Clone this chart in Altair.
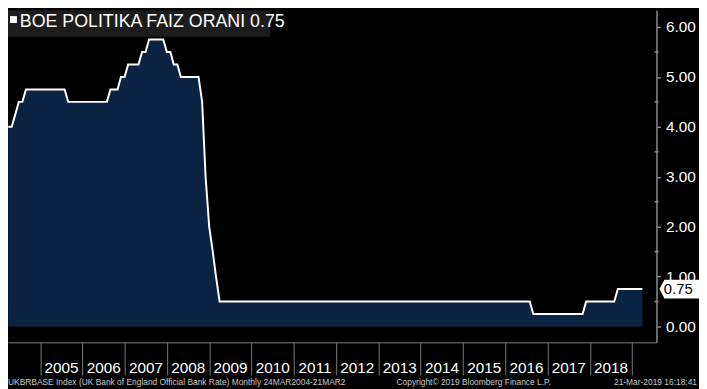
import altair as alt
import pandas as pd

# Vertices of the monthly Bank Rate series (month-end)
dates = ["2004-03-31", "2004-04-30", "2004-05-31", "2004-06-30", "2004-07-31",
         "2004-08-31", "2005-07-31", "2005-08-31", "2006-07-31", "2006-08-31",
         "2006-10-31", "2006-11-30", "2006-12-31", "2007-01-31", "2007-04-30",
         "2007-05-31", "2007-06-30", "2007-07-31", "2007-11-30", "2007-12-31",
         "2008-01-31", "2008-02-29", "2008-03-31", "2008-04-30", "2008-09-30",
         "2008-10-31", "2008-11-30", "2008-12-31", "2009-01-31", "2009-02-28",
         "2009-03-31", "2016-07-31", "2016-08-31", "2017-10-31", "2017-11-30",
         "2018-07-31", "2018-08-31", "2019-03-31"]
rates = [4.00, 4.00, 4.25, 4.50, 4.50,
         4.75, 4.75, 4.50, 4.50, 4.75,
         4.75, 5.00, 5.00, 5.25, 5.25,
         5.50, 5.50, 5.75, 5.75, 5.50,
         5.50, 5.25, 5.25, 5.00, 5.00,
         4.50, 3.00, 2.00, 1.50, 1.00,
         0.50, 0.50, 0.25, 0.25, 0.50,
         0.50, 0.75, 0.75]

year_ticks = list(range(2005, 2020))
y_ticks = [0, 1, 2, 3, 4, 5, 6]
y_minor = [0.5, 1.5, 2.5, 3.5, 4.5, 5.5]
last_value = 0.75
title_text = "BOE POLITIKA FAIZ ORANI 0.75"
footer_left = "UKBRBASE Index (UK Bank of England Official Bank Rate)  Monthly 24MAR2004-21MAR2"
footer_mid = "Copyright\u00a9 2019 Bloomberg Finance L.P."
footer_right = "21-Mar-2019 16:18:41"

W, H = 656, 336
NARROW = "Liberation Sans Narrow, Arial Narrow, Liberation Sans, sans-serif"

df = pd.DataFrame({"date": dates, "rate": rates})

x_scale = alt.Scale(domain=["2004-03-29", "2019-07-31"], nice=False)
y_scale = alt.Scale(domain=[-0.317, 6.337], nice=False, zero=False)

x_axis = alt.Axis(
    orient="bottom", title=None, grid=False,
    values=[alt.DateTime(year=y, month=1, date=1) for y in year_ticks],
    labelExpr="year(datum.value) == 2019 ? '' : timeFormat(datum.value, '%Y')",
    tickSize=33, tickColor="#7a7a7a", tickWidth=1,
    domainColor="#7a7a7a", domainWidth=1,
    labelColor="#ffffff", labelFont=NARROW, labelFontSize=15.5,
    labelOffset=21, labelPadding=-14, labelBaseline="top", labelAlign="center",
    labelFlush=False, labelOverlap=False,
)
y_axis = alt.Axis(
    orient="right", title=None, grid=False, values=y_ticks, format=".2f",
    tickSize=4, tickColor="#8c8c8c", tickWidth=1.5,
    domainColor="#8c8c8c", domainWidth=1.5,
    labelColor="#ffffff", labelFont="Liberation Sans, Arial, sans-serif",
    labelFontSize=15.5, labelPadding=5, labelBaseline="middle",
)

base = alt.Chart(df).encode(
    x=alt.X("date:T", scale=x_scale, axis=x_axis),
)

area = base.mark_area(color="#0a2342", interpolate="linear").encode(
    y=alt.Y("rate:Q", scale=y_scale, axis=y_axis),
    y2=alt.value(H),
)
line = base.mark_line(color="#ffffff", strokeWidth=2, interpolate="linear").encode(
    y=alt.Y("rate:Q", scale=y_scale),
)

minor = alt.Chart(pd.DataFrame({"v": y_minor})).mark_rule(
    color="#8c8c8c", strokeWidth=1.5
).encode(
    y=alt.Y("v:Q", scale=y_scale),
    x=alt.value(W - 2), x2=alt.value(W + 2),
)

badge_df = pd.DataFrame({"v": [last_value], "label": [f"{last_value:.2f}"]})
badge = alt.Chart(badge_df).mark_point(
    shape="M -1 0 L -0.75 -0.475 L 1 -0.475 L 1 0.475 L -0.75 0.475 Z",
    filled=True, fill="#ffffff", stroke=None, opacity=1, size=1600,
).encode(
    y=alt.Y("v:Q", scale=y_scale),
    x=alt.value(W + 23),
)
badge_text = alt.Chart(badge_df).mark_text(
    color="#000000", fontSize=15, font="Liberation Sans, Arial, sans-serif",
    align="center", baseline="middle",
).encode(
    y=alt.Y("v:Q", scale=y_scale),
    x=alt.value(W + 22),
    text="label:N",
)

one = pd.DataFrame({"k": [0]})
title_box = alt.Chart(one).mark_rect(color="#1c1c1c").encode(
    x=alt.value(0), x2=alt.value(265), y=alt.value(0), y2=alt.value(27),
)
title_sq = alt.Chart(one).mark_rect(color="#ffffff").encode(
    x=alt.value(2), x2=alt.value(9), y=alt.value(6), y2=alt.value(13),
)
title_txt = alt.Chart(one).mark_text(
    color="#ffffff", fontSize=18, font=NARROW, align="left", baseline="alphabetic",
).encode(
    x=alt.value(12), y=alt.value(17.5), text=alt.value(title_text),
)

foot_style = dict(color="#c8c8c8", fontSize=8.5, font=NARROW, baseline="alphabetic")
f1 = alt.Chart(one).mark_text(align="left", **foot_style).encode(
    x=alt.value(0), y=alt.value(379), text=alt.value(footer_left))
f2 = alt.Chart(one).mark_text(align="left", **foot_style).encode(
    x=alt.value(393), y=alt.value(379), text=alt.value(footer_mid))
f3 = alt.Chart(one).mark_text(align="right", **foot_style).encode(
    x=alt.value(697), y=alt.value(379), text=alt.value(footer_right))

chart = alt.layer(
    area, line, minor, badge, badge_text, title_box, title_sq, title_txt, f1, f2, f3
).properties(
    width=W, height=H,
    background="#000000",
    padding={"left": 0, "top": 0, "right": 43, "bottom": 45},
    autosize=alt.AutoSizeParams(type="none"),
).configure_view(stroke=None)

chart.save("out.html", embed_options={"renderer": "svg", "actions": False})
